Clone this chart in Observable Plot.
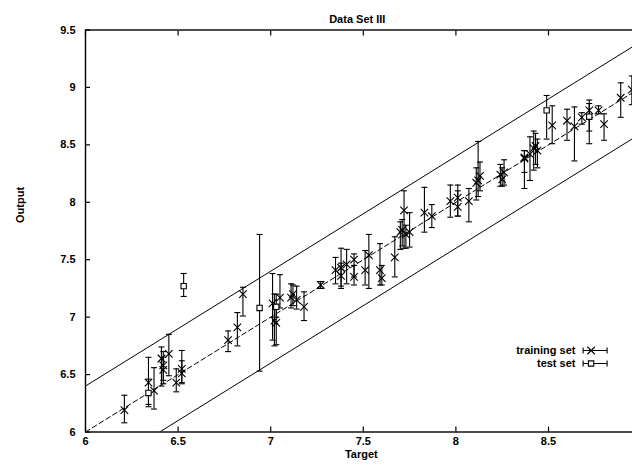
<!DOCTYPE html>
<html><head><meta charset="utf-8">
<script src="https://cdn.jsdelivr.net/npm/d3@7"></script>
<script src="https://cdn.jsdelivr.net/npm/@observablehq/plot@0.6"></script>
<style>
html,body{margin:0;padding:0;background:#fff;overflow:hidden;width:632px;height:465px;}
#chart{position:relative;width:632px;height:465px;overflow:hidden;}
</style></head>
<body><div id="chart"></div>
<script>
// ---- data ----
const title = "Data Set III";
const xLabel = "Target";
const yLabel = "Output";
const xTicks = [6, 6.5, 7, 7.5, 8, 8.5];
const yTicks = [6, 6.5, 7, 7.5, 8, 8.5, 9, 9.5];
const fitX = [6, 9];
const bandOffset = 0.4;

const trainX  = [6.21,6.34,6.37,6.41,6.42,6.42,6.45,6.49,6.52,6.52,6.77,6.82,6.85,7.01,7.02,7.03,7.05,7.11,7.12,7.14,7.18,7.27,7.35,7.38,7.38,7.41,7.45,7.45,7.51,7.53,7.59,7.60,7.67,7.70,7.71,7.72,7.73,7.75,7.83,7.87,7.97,8.01,8.01,8.07,8.11,8.12,8.13,8.24,8.25,8.26,8.37,8.37,8.40,8.42,8.43,8.44,8.52,8.60,8.64,8.68,8.72,8.77,8.80,8.89,8.95];
const trainY  = [6.19,6.43,6.36,6.64,6.58,6.54,6.68,6.43,6.55,6.51,6.80,6.91,7.20,7.12,6.97,6.95,7.17,7.17,7.20,7.15,7.09,7.28,7.41,7.43,7.36,7.46,7.50,7.35,7.41,7.54,7.41,7.34,7.52,7.74,7.76,7.93,7.72,7.74,7.91,7.88,8.01,8.04,7.96,8.01,8.17,8.19,8.23,8.24,8.20,8.26,8.39,8.38,8.42,8.47,8.49,8.45,8.67,8.71,8.66,8.74,8.80,8.80,8.68,8.91,8.98];
const trainLo = [6.08,6.22,6.20,6.40,6.45,6.42,6.49,6.35,6.42,6.43,6.70,6.75,7.01,6.80,6.75,6.76,7.08,7.08,7.10,7.07,6.97,7.25,7.29,7.25,7.27,7.29,7.35,7.28,7.28,7.25,7.28,7.28,7.35,7.59,7.62,7.60,7.60,7.61,7.74,7.78,7.87,7.88,7.88,7.83,8.02,8.05,8.10,8.14,8.14,8.15,8.26,8.12,8.19,8.28,8.33,8.30,8.51,8.54,8.36,8.68,8.51,8.77,8.54,8.74,8.85];
const trainHi = [6.32,6.65,6.56,6.74,6.70,6.65,6.85,6.55,6.71,6.62,6.88,7.04,7.26,7.38,7.20,7.10,7.37,7.29,7.28,7.27,7.22,7.31,7.52,7.60,7.47,7.59,7.55,7.45,7.58,7.72,7.64,7.45,7.70,7.83,7.85,8.10,7.80,7.91,8.13,7.98,8.15,8.15,8.10,8.12,8.30,8.53,8.35,8.33,8.30,8.37,8.45,8.45,8.57,8.62,8.60,8.55,8.84,8.81,8.83,8.78,8.89,8.84,8.77,9.04,9.10];

const testX  = [6.34,6.53,6.94,7.03,8.49,8.72];
const testY  = [6.34,7.27,7.08,7.09,8.80,8.745];
const testLo = [6.24,7.18,6.53,7.00,8.55,8.62];
const testHi = [6.46,7.38,7.72,7.20,8.93,8.86];

const legendItems = ["training set", "test set"];

// ---- build rows ----
const train = trainX.map((x, i) => ({x, y: trainY[i], lo: trainLo[i], hi: trainHi[i]}));
const test  = testX.map((x, i) => ({x, y: testY[i], lo: testLo[i], hi: testHi[i]}));

const cap = {draw(ctx) { ctx.moveTo(-3, 0); ctx.lineTo(3, 0); }};
const legendBar = {draw(ctx) {
  ctx.moveTo(-12, 0); ctx.lineTo(12, 0);
  ctx.moveTo(-12, -3); ctx.lineTo(-12, 3);
  ctx.moveTo(12, -3); ctx.lineTo(12, 3);
}};

const font = "'Liberation Sans', Arial, Helvetica, sans-serif";
const legX = -46;     // offsets from frame right edge (px)
const legDy = [119.5, 132.5];

const chart = Plot.plot({
  width: 648, height: 465,
  marginLeft: 85, marginRight: 7.4, marginTop: 29.5, marginBottom: 33.5,
  x: {domain: [6, 9]},
  y: {domain: [6, 9.5]},
  style: {fontFamily: font, fontSize: "11px", fontWeight: "bold", color: "black", background: "white", maxWidth: "none", overflow: "visible"},
  marks: [
    Plot.frame({stroke: "black", strokeWidth: 1.4}),
    Plot.axisX(xTicks, {anchor: "bottom", tickSize: -5, tickPadding: 10, tickFormat: d => String(d), label: null, stroke: "black", strokeWidth: 1.2}),
    Plot.axisX(xTicks, {anchor: "top", tickSize: -5, tickFormat: () => "", label: null, stroke: "black", strokeWidth: 1.2}),
    Plot.axisY(yTicks, {anchor: "left", tickSize: -5, tickPadding: 15, tickFormat: d => String(d), label: null, stroke: "black", strokeWidth: 1.2}),
    Plot.text([title], {frameAnchor: "top", dy: -15, dx: -6, text: d => d, fontSize: 11, fontWeight: "bold"}),
    Plot.text([xLabel], {frameAnchor: "bottom", dy: 25.5, dx: -2, text: d => d, fontSize: 11, fontWeight: "bold"}),
    Plot.text([yLabel], {frameAnchor: "left", dx: -65, dy: -8, rotate: -90, text: d => d, fontSize: 11, fontWeight: "bold"}),
    // reference lines
    Plot.line(fitX, {x: d => d, y: d => d, stroke: "black", strokeWidth: 1, strokeDasharray: "5,3", clip: true}),
    Plot.line(fitX, {x: d => d, y: d => d + bandOffset, stroke: "black", strokeWidth: 1, clip: true}),
    Plot.line(fitX, {x: d => d, y: d => d - bandOffset, stroke: "black", strokeWidth: 1, clip: true}),
    // training set
    Plot.ruleX(train, {x: "x", y1: "lo", y2: "hi", stroke: "black", strokeWidth: 1.1}),
    Plot.dot(train, {x: "x", y: "lo", symbol: cap, stroke: "black", fill: "none", strokeWidth: 1.1}),
    Plot.dot(train, {x: "x", y: "hi", symbol: cap, stroke: "black", fill: "none", strokeWidth: 1.1}),
    Plot.dot(train, {x: "x", y: "y", symbol: "times", r: 3.5, stroke: "black", fill: "none", strokeWidth: 1.1}),
    // test set
    Plot.ruleX(test, {x: "x", y1: "lo", y2: "hi", stroke: "black", strokeWidth: 1.1}),
    Plot.dot(test, {x: "x", y: "lo", symbol: cap, stroke: "black", fill: "none", strokeWidth: 1.1}),
    Plot.dot(test, {x: "x", y: "hi", symbol: cap, stroke: "black", fill: "none", strokeWidth: 1.1}),
    Plot.dot(test, {x: "x", y: "y", symbol: "square", r: 3, stroke: "black", fill: "white", strokeWidth: 1.1}),
    // legend
    Plot.text([legendItems[0]], {frameAnchor: "right", dx: -65.6, dy: legDy[0], text: d => d, textAnchor: "end", fontSize: 11, fontWeight: "bold"}),
    Plot.text([legendItems[1]], {frameAnchor: "right", dx: -65.6, dy: legDy[1], text: d => d, textAnchor: "end", fontSize: 11, fontWeight: "bold"}),
    Plot.dot([legendItems[0]], {frameAnchor: "right", dx: legX, dy: legDy[0], symbol: legendBar, stroke: "black", fill: "none", strokeWidth: 1.1}),
    Plot.dot([legendItems[0]], {frameAnchor: "right", dx: legX - 4, dy: legDy[0], symbol: "times", r: 3.5, stroke: "black", fill: "none", strokeWidth: 1.1}),
    Plot.dot([legendItems[1]], {frameAnchor: "right", dx: legX, dy: legDy[1], symbol: legendBar, stroke: "black", fill: "none", strokeWidth: 1.1}),
    Plot.dot([legendItems[1]], {frameAnchor: "right", dx: legX - 4, dy: legDy[1], symbol: "square", r: 3, stroke: "black", fill: "white", strokeWidth: 1.1})
  ]
});
document.getElementById("chart").appendChild(chart);
</script></body></html>
